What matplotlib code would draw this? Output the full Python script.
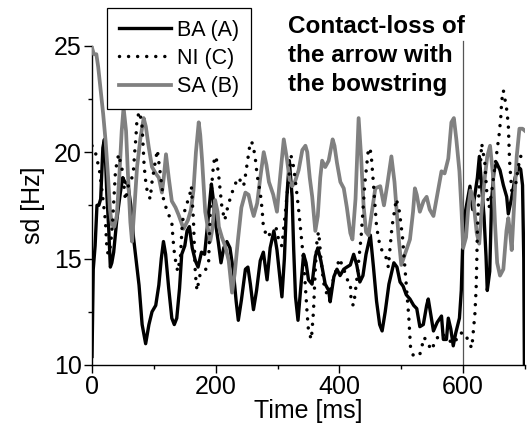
import matplotlib
matplotlib.use("Agg")
import matplotlib.pyplot as plt
from matplotlib.ticker import MultipleLocator

plt.rcParams['font.family'] = ['Liberation Sans', 'DejaVu Sans']

# BA (A) - black solid
ba_t = [0, 2, 5, 8, 11, 14, 17.5, 20, 22, 24, 27, 29.6, 32, 35, 40, 45.8, 49.6, 53, 58, 63.6,
        67, 71, 76, 81, 86.7, 92, 97, 103, 108, 112, 115.5, 119, 124, 129, 133, 137, 141.5, 145, 150, 153.6,
        157.4, 162, 167, 171.4, 177, 182, 187.5, 193, 196, 199, 204, 208.5, 213, 218, 223, 228.5, 233, 236.5, 241.5, 248,
        252, 256, 261, 266, 272, 277, 283, 288, 294, 299, 303, 307, 311, 315, 319, 323.5, 326, 329, 333, 337,
        342, 346, 350, 355.7, 361, 365, 370, 377, 382.6, 385, 391, 396, 401, 407, 412, 417.6, 423, 428, 433, 438,
        443, 450, 455, 460, 465, 469, 474, 480, 488, 493, 498, 503, 508, 514, 520, 525, 530, 535.6, 541, 543.6,
        548, 552, 558, 565, 568, 573, 576, 580, 584, 588, 594, 597, 599, 603, 608, 611, 615.4, 619.2, 623, 626.2,
        630, 633.7, 637, 639, 643, 646, 650, 654, 659.6, 665, 670.4, 673, 678, 684, 689.3, 693, 696, 698, 699]
ba_v = [10.4, 14.5, 15.6, 17.5, 17.5, 17.8, 20.2, 20.6, 19.5, 18.0, 16.4, 14.6, 14.8, 15.3, 16.8, 18.1, 18.8, 18.6, 18.5, 17.3,
        16.0, 15.0, 13.75, 11.9, 11.0, 11.9, 12.5, 12.8, 13.75, 15.0, 15.8, 15.2, 13.6, 12.2, 11.9, 12.2, 13.6, 15.2, 15.6, 16.3,
        16.5, 15.5, 14.9, 14.6, 15.3, 15.2, 16.8, 18.5, 17.8, 16.8, 15.8, 14.8, 15.5, 15.8, 15.5, 14.4, 13.0, 12.1, 13.05, 14.5,
        14.6, 13.8, 12.6, 13.5, 14.9, 15.3, 14.0, 15.5, 16.3, 15.4, 14.3, 13.2, 15.0, 17.9, 19.6, 17.9, 15.45, 13.2, 12.1, 13.5,
        15.2, 14.8, 14.0, 13.8, 15.1, 15.5, 14.9, 13.8, 13.5, 12.97, 14.15, 14.5, 14.2, 14.5, 14.6, 14.7, 15.2, 14.7, 13.9, 14.2,
        15.2, 16.1, 14.6, 13.0, 11.9, 11.6, 12.5, 13.8, 14.8, 14.6, 13.9, 13.7, 13.3, 13.1, 12.8, 12.65, 11.8, 11.9, 12.8, 13.1,
        12.3, 11.6, 12.0, 12.3, 11.2, 11.2, 12.2, 11.7, 10.9, 11.5, 12.2, 13.5, 15.4, 17.1, 17.9, 18.4, 17.3, 18.06, 18.8, 19.8,
        18.4, 17.0, 15.1, 13.5, 14.4, 17.75, 19.15, 19.5, 19.15, 18.45, 17.9, 17.1, 17.8, 18.8, 19.3, 19.2, 18.45, 15.0, 10.0]

# NI (C) - black dotted
ni_t = [0, 5.4, 12, 16, 21.6, 24, 26, 30, 33.4, 35, 36.7, 38, 43, 48.5, 51, 54, 59, 63, 67, 69,
        71, 72.8, 77, 81, 82.5, 84, 86, 89, 94, 97, 102, 105.6, 109, 116, 122, 129, 131, 133.7, 138.5, 143,
        144.5, 146, 151, 157.4, 160.6, 164, 167, 169.7, 175, 184, 188.6, 191.3, 195, 198.3, 201, 204.8, 207.5, 210, 214.5, 220,
        226.4, 233, 237, 241, 245, 248, 252, 256, 260, 264, 267, 272, 275, 277, 283, 292, 298, 303, 307, 312,
        317, 322, 326, 331, 334, 339.5, 344, 347.6, 350, 354.6, 358, 361, 364, 366.5, 370, 374.5, 380, 385, 392, 400,
        407, 413, 417.6, 419, 423, 428, 435, 441, 447, 451, 455, 460, 466, 474, 479, 485, 492, 497, 502, 506,
        509, 512, 515, 520, 530, 537, 543, 549, 556, 565, 575, 585, 595, 603, 610, 614, 616.5, 619, 621, 622,
        623, 626, 630, 635, 638, 642, 646, 650, 655, 658.5, 661, 662.3, 665, 670, 673, 675, 678.5, 685, 692, 700]
ni_v = [20.3, 20.0, 19.15, 18.2, 16.8, 15.5, 15.2, 15.6, 16.8, 17.6, 18.4, 19.15, 19.9, 19.2, 18.6, 17.75, 18.45, 18.6, 19.15, 20.0,
        20.7, 21.6, 21.9, 21.2, 20.3, 19.5, 18.8, 18.2, 17.8, 18.6, 19.5, 20.1, 19.3, 17.7, 17.2, 16.7, 15.9, 15.1, 14.4, 15.1,
        15.9, 16.7, 17.4, 17.9, 18.4, 16.8, 14.3, 13.5, 14.3, 14.5, 14.9, 17.4, 19.0, 19.8, 19.7, 18.9, 18.1, 17.4, 16.8, 17.5,
        18.1, 18.6, 18.8, 18.6, 18.4, 18.9, 19.7, 20.5, 20.4, 19.7, 18.9, 18.1, 17.3, 16.5, 16.0, 16.3, 16.4, 15.7, 15.6, 17.0,
        18.5, 19.8, 19.3, 18.1, 17.3, 15.7, 14.1, 12.5, 11.6, 11.2, 12.5, 14.5, 16.0, 16.25, 15.0, 13.85, 13.3, 13.5, 14.2, 15.0,
        14.5, 14.0, 13.9, 12.9, 12.8, 14.0, 16.0, 18.5, 20.2, 20.0, 18.5, 16.5, 15.5, 15.2, 14.6, 16.5, 17.8, 17.2, 16.0, 14.5,
        13.4, 12.3, 10.8, 10.4, 10.5, 11.3, 11.0, 10.7, 11.2, 11.5, 11.2, 11.0, 11.5, 11.5, 11.0, 10.8, 11.6, 12.4, 13.6, 14.8,
        16.3, 18.5, 20.4, 19.5, 18.2, 17.4, 18.1, 19.0, 20.1, 20.9, 21.7, 22.4, 22.9, 22.1, 21.3, 19.6, 18.2, 18.5, 19.8, 19.8]

# SA (B) - gray solid
sa_t = [0, 3, 7, 10, 14, 18, 22, 26, 29, 32, 36, 40, 44, 48, 51, 55, 58, 62, 64.7, 69,
        72.8, 78, 83.5, 87, 91.6, 97, 103, 108, 113, 116, 119.6, 124, 129, 135, 140, 148, 155, 160, 164, 168,
        172.5, 175, 178, 183, 188, 191, 194, 199, 203, 205, 210, 215.6, 221, 226.4, 230.7, 236, 241.5, 248, 253, 257.6,
        261.4, 267, 272, 277.6, 282, 286, 293, 299, 304, 310, 315, 320, 323.5, 328, 334, 340, 345, 348, 352, 356,
        361, 365, 369, 372, 377, 382.6, 389, 392, 396, 401.5, 407, 412, 417.6, 421, 426, 431, 435, 439, 443, 447,
        453, 458, 466, 472, 477, 484, 489, 496, 500, 507, 514, 519, 522, 525, 530, 536, 541, 546, 552, 557,
        565, 570, 576, 581, 585, 589, 594, 597.5, 600, 604.7, 608, 612, 616.5, 622, 626, 630, 635, 639, 643.5, 648,
        651.5, 655, 659.6, 665, 670, 673, 676, 678.5, 682, 686.6, 691, 696, 700]
sa_v = [24.9, 24.6, 24.6, 24.0, 22.9, 21.8, 20.5, 18.8, 17.3, 16.6, 16.5, 17.0, 18.8, 21.0, 22.1, 21.0, 19.0, 16.7, 15.8, 17.6,
        19.3, 20.6, 21.6, 21.2, 20.25, 19.3, 19.0, 18.8, 18.1, 18.8, 19.9, 18.8, 17.7, 17.4, 17.05, 16.4, 16.8, 17.3, 18.2, 20.0,
        21.4, 20.8, 19.6, 17.2, 16.3, 15.8, 16.3, 17.75, 17.2, 16.5, 16.0, 15.55, 14.9, 13.4, 14.3, 15.9, 17.4, 18.1, 18.0, 17.4,
        17.0, 17.6, 18.8, 20.0, 19.4, 18.6, 18.0, 17.2, 18.8, 20.6, 19.7, 18.6, 18.4, 18.6, 19.15, 20.1, 20.3, 20.0, 18.8, 17.9,
        16.3, 17.0, 18.8, 19.6, 19.3, 19.6, 20.6, 20.3, 19.5, 18.6, 18.3, 17.4, 16.2, 15.9, 17.8, 21.6, 19.8, 17.5, 16.25, 16.1,
        17.3, 18.3, 18.4, 17.5, 18.4, 19.8, 18.6, 15.9, 14.7, 15.3, 15.9, 17.2, 18.3, 18.0, 17.2, 17.7, 17.9, 17.3, 17.0, 17.8,
        19.1, 19.0, 19.7, 21.4, 21.6, 20.6, 19.1, 17.2, 15.5, 16.0, 17.3, 18.2, 17.75, 16.2, 15.7, 17.3, 18.8, 19.8, 20.3, 19.0,
        16.65, 14.8, 14.2, 14.5, 16.3, 16.9, 16.2, 15.4, 17.3, 19.8, 21.1, 21.1, 21.0]

labels = ["BA (A)", "NI (C)", "SA (B)"]
event_time = 600
event_text = "Contact-loss of\nthe arrow with\nthe bowstring"

fig = plt.figure(figsize=(5.31, 4.32), dpi=100)
ax = fig.add_axes([0.1733, 0.1551, 0.8154, 0.7391])

ax.plot(ba_t, ba_v, color="black", lw=2.4, label=labels[0], solid_joinstyle="round", zorder=3)
ax.plot(ni_t, ni_v, color="black", lw=2.5, linestyle=(0, (0.01, 2.6)), dash_capstyle="round",
        label=labels[1], zorder=4)
ax.plot(sa_t, sa_v, color="#808080", lw=2.7, label=labels[2], solid_joinstyle="round", zorder=3.5)

ax.plot([event_time, event_time], [10, 25.2], color="#555555", lw=0.9, clip_on=False, zorder=2)

ax.set_xlim(0, 700)
ax.set_ylim(10, 25)
ax.xaxis.set_major_locator(MultipleLocator(200))
ax.xaxis.set_minor_locator(MultipleLocator(100))
ax.yaxis.set_major_locator(MultipleLocator(5))
ax.yaxis.set_minor_locator(MultipleLocator(2.5))
ax.tick_params(which="major", direction="out", length=5.5, width=1, labelsize=18, pad=2)
ax.tick_params(which="minor", direction="out", length=3, width=1)
for s in ["top", "right"]:
    ax.spines[s].set_visible(False)
for s in ["left", "bottom"]:
    ax.spines[s].set_linewidth(1)

ax.set_xlabel("Time [ms]", fontsize=18, labelpad=0)
ax.set_ylabel("sd [Hz]", fontsize=18, labelpad=6)

leg = ax.legend(loc="upper left", bbox_to_anchor=(107 / 531, 1 - 8 / 432),
                bbox_transform=fig.transFigure, fontsize=15.5, frameon=True, fancybox=False,
                edgecolor="black", framealpha=1, handlelength=2.4, handletextpad=0.3,
                labelspacing=0.33, borderpad=0.55, borderaxespad=0)
leg.get_frame().set_linewidth(0.9)
leg.set_zorder(10)

fig.text(288 / 531, 1 - 15 / 432, event_text, fontsize=17.5, fontweight="bold",
         ha="left", va="top", linespacing=1.33)

fig.savefig("out.png", dpi=100)
